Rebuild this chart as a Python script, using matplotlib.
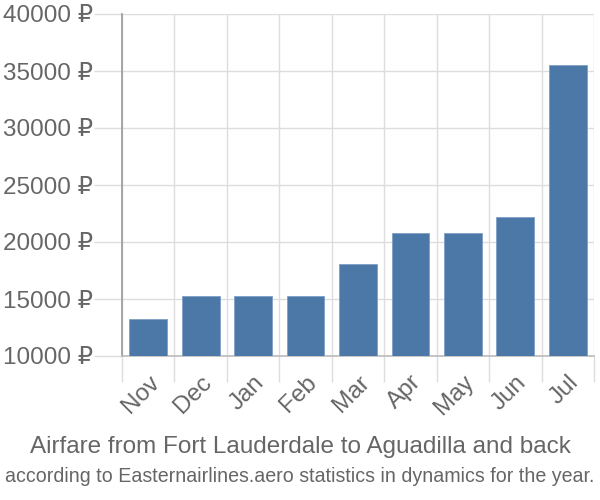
import numpy as np
import matplotlib.pyplot as plt
from matplotlib.ticker import FuncFormatter

months = ["Nov", "Dec", "Jan", "Feb", "Mar", "Apr", "May", "Jun", "Jul"]
prices = [13250, 15290, 15290, 15290, 18040, 20820, 20820, 22190, 35530]
y_ticks = [10000, 15000, 20000, 25000, 30000, 35000, 40000]

title = "Airfare from Fort Lauderdale to Aguadilla and back"
subtitle = "according to Easternairlines.aero statistics in dynamics for the year."

plt.rcParams["font.family"] = ["Liberation Sans", "DejaVu Sans"]

BAR_COLOR = "#4c78a8"
TEXT_COLOR = "#666666"
GRID_COLOR = "#dddddd"

fig = plt.figure(figsize=(6, 5), dpi=100)
ax = fig.add_axes([0.2033, 0.288, 0.7867, 0.684])

x = np.arange(len(months))
ax.bar(x, prices, width=0.72, color=BAR_COLOR, edgecolor="#7f9fc4", linewidth=0.6, zorder=3)

ax.set_xlim(-0.5, len(months) - 0.5)
ax.set_ylim(10000, 40000)

# gridlines at category boundaries
ax.set_xticks(np.arange(-0.5, len(months), 1.0), minor=False)
ax.set_xticklabels([])
ax.set_xticks(x, minor=True)
ax.set_xticklabels(months, minor=True, rotation=45, ha="right", rotation_mode="anchor",
                   fontsize=17.5, color=TEXT_COLOR)
ax.tick_params(axis="x", which="major", length=19, color=GRID_COLOR, width=1)
ax.tick_params(axis="x", which="minor", length=0, pad=11)

ax.set_yticks(y_ticks)
ax.yaxis.set_major_formatter(FuncFormatter(lambda v, _: f"{int(v)} ₽"))
ax.tick_params(axis="y", length=20, color=GRID_COLOR, width=1, labelsize=17.5,
               labelcolor=TEXT_COLOR, pad=1)

ax.grid(True, which="major", color=GRID_COLOR, linewidth=1, zorder=0)

for side in ["top", "right"]:
    ax.spines[side].set_visible(False)
ax.spines["left"].set_color("#999999")
ax.spines["left"].set_linewidth(1.2)
ax.spines["bottom"].set_color("#bbbbbb")
ax.spines["bottom"].set_linewidth(1.2)

fig.text(0.5, 0.106, title, ha="center", va="center", fontsize=17.5, color=TEXT_COLOR)
fig.text(0.5, 0.047, subtitle, ha="center", va="center", fontsize=14.1, color=TEXT_COLOR)

fig.savefig("out.png", dpi=100)
